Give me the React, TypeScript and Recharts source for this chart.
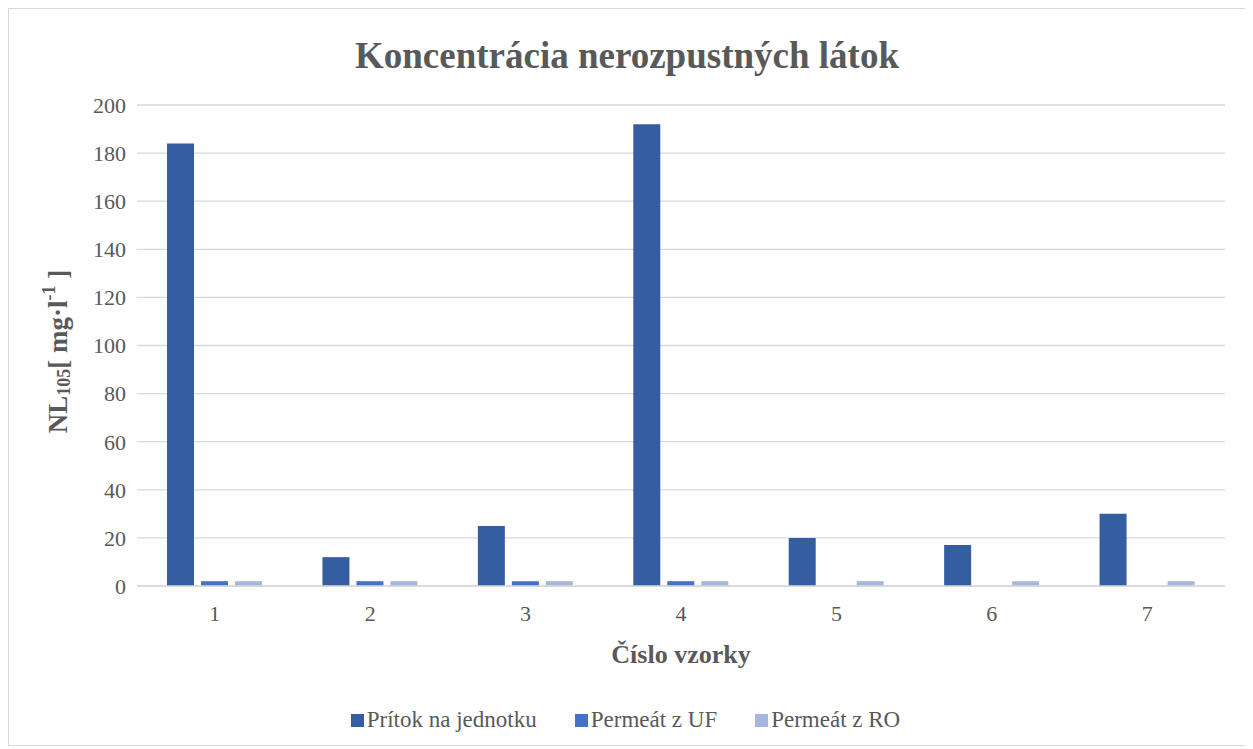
import React from "react";
import {
  Bar,
  BarChart,
  CartesianGrid,
  Legend,
  XAxis,
  YAxis,
} from "recharts";

const samples = ["1", "2", "3", "4", "5", "6", "7"];
const pritok = [184, 12, 25, 192, 20, 17, 30];
const permeatUF = [2, 2, 2, 2, 0, 0, 0];
const permeatRO = [2, 2, 2, 2, 2, 2, 2];
const yTicks = [0, 20, 40, 60, 80, 100, 120, 140, 160, 180, 200];

const series = [
  { key: "pritok", name: "Prítok na jednotku", color: "#355da1" },
  { key: "uf", name: "Permeát z UF", color: "#4472c4" },
  { key: "ro", name: "Permeát z RO", color: "#a7b6de" },
];

const data = samples.map((s, i) => ({
  name: s,
  pritok: pritok[i],
  uf: permeatUF[i],
  ro: permeatRO[i],
}));

const FONT = '"Liberation Serif", "Times New Roman", serif';
const GREY = "#595959";

function YLabel(props: any) {
  const { viewBox } = props;
  const x = viewBox.x + 49;
  const y = viewBox.y + viewBox.height / 2 + 6;
  return (
    <text
      x={x}
      y={y}
      transform={`rotate(-90, ${x}, ${y})`}
      textAnchor="middle"
      dominantBaseline="central"
      fill={GREY}
      fontWeight="bold"
      fontSize={27}
      fontFamily={FONT}
    >
      <tspan>NL</tspan>
      <tspan fontSize={18} dy={6}>105</tspan>
      <tspan dy={-6}>[ mg·l</tspan>
      <tspan fontSize={18} dy={-9}>-1</tspan>
      <tspan dy={9}> ]</tspan>
    </text>
  );
}

function XLabel(props: any) {
  const { viewBox } = props;
  const x = viewBox.x + viewBox.width / 2;
  const y = viewBox.y + 68;
  return (
    <text
      x={x}
      y={y}
      textAnchor="middle"
      dominantBaseline="central"
      fill={GREY}
      fontWeight="bold"
      fontSize={26}
      fontFamily={FONT}
    >
      Číslo vzorky
    </text>
  );
}

function LegendContent() {
  return (
    <div
      style={{
        display: "flex",
        justifyContent: "center",
        alignItems: "center",
        gap: 38,
        height: 40,
        fontFamily: FONT,
        fontSize: 23,
        color: GREY,
        paddingLeft: 17,
      }}
    >
      {series.map((s) => (
        <div key={s.key} style={{ display: "flex", alignItems: "center" }}>
          <span
            style={{
              display: "inline-block",
              width: 13,
              height: 13,
              background: s.color,
              marginRight: 3,
            }}
          />
          <span>{s.name}</span>
        </div>
      ))}
    </div>
  );
}

export default function App() {
  return (
    <div
      style={{
        position: "relative",
        width: 1238,
        height: 738,
        border: "1px solid #d9d9d9",
        boxSizing: "border-box",
        background: "#fff",
      }}
    >
      <div
        style={{
          position: "absolute",
          top: 26,
          left: 0,
          width: "100%",
          textAlign: "center",
          fontFamily: FONT,
          fontWeight: "bold",
          fontSize: 37,
          lineHeight: "42px",
          color: GREY,
        }}
      >
        Koncentrácia nerozpustných látok
      </div>
      <BarChart
        width={1236}
        height={736}
        data={data}
        margin={{ top: 96, right: 20, bottom: 5, left: 0 }}
        barGap={7}
        barSize={27}
      >
        <CartesianGrid vertical={false} stroke="#d9d9d9" strokeWidth={1.3} />
        <XAxis
          dataKey="name"
          height={114}
          axisLine={{ stroke: "#d9d9d9", strokeWidth: 1.3 }}
          tickLine={false}
          tickSize={0}
          tickMargin={19}
          tick={{ fill: GREY, fontSize: 22, fontFamily: FONT }}
          label={<XLabel />}
        />
        <YAxis
          width={128}
          domain={[0, 200]}
          ticks={yTicks}
          axisLine={false}
          tickLine={false}
          tickSize={0}
          tickMargin={11}
          tick={{ fill: GREY, fontSize: 22, fontFamily: FONT }}
          label={<YLabel />}
        />
        <Legend
          verticalAlign="bottom"
          height={40}
          content={<LegendContent />}
        />
        {series.map((s) => (
          <Bar
            key={s.key}
            dataKey={s.key}
            name={s.name}
            fill={s.color}
            isAnimationActive={false}
          />
        ))}
      </BarChart>
    </div>
  );
}
